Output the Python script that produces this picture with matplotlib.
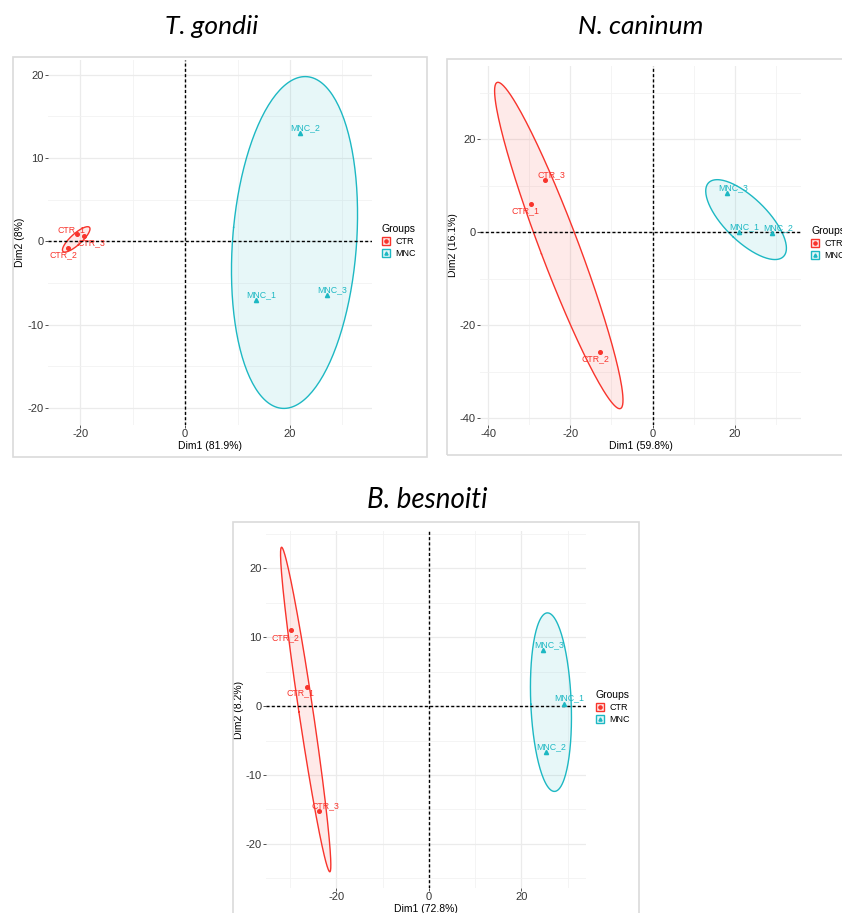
import numpy as np
import matplotlib.pyplot as plt
from matplotlib.patches import Patch, Rectangle
from matplotlib.lines import Line2D
from matplotlib.legend_handler import HandlerTuple
from matplotlib.ticker import MultipleLocator
from matplotlib.colors import to_rgba

plt.rcParams['axes.unicode_minus'] = False
plt.rcParams['font.family'] = ['Liberation Sans', 'DejaVu Sans']

W, H = 842, 913
RED = "#F8342C"
CYAN = "#1DB8C3"

# ---- data ----
samples = ["CTR_1", "CTR_2", "CTR_3", "MNC_1", "MNC_2", "MNC_3"]
group = ["CTR", "CTR", "CTR", "MNC", "MNC", "MNC"]
groups = ["CTR", "MNC"]

# T. gondii
tg_dim1 = [-20.7, -22.3, -19.3, 13.5, 22.0, 27.1]
tg_dim2 = [0.84, -0.76, 0.64, -7.0, 13.0, -6.4]
# N. caninum
nc_dim1 = [-29.6, -12.7, -26.1, 21.0, 29.0, 18.2]
nc_dim2 = [6.1, -25.8, 11.2, 0.0, -0.2, 8.4]
# B. besnoiti
bb_dim1 = [-26.4, -29.9, -23.7, 29.3, 25.3, 24.6]
bb_dim2 = [2.8, 11.0, -15.3, 0.3, -6.7, 8.1]

titles = ["T. gondii", "N. caninum", "B. besnoiti"]
xlabels = ["Dim1 (81.9%)", "Dim1 (59.8%)", "Dim1 (72.8%)"]
ylabels = ["Dim2 (8%)", "Dim2 (16.1%)", "Dim2 (8.2%)"]

# label offsets (px), layout only
tg_off = [(-5.3, 5), (-5, -6.7), (7.4, -6.6), (5.4, 5), (5, 5.7), (5, 5.3)]
nc_off = [(-5.7, -7), (-5.3, -6.7), (6.4, 5.6), (5.3, 6), (6, 5.6), (6, 5.6)]
bb_off = [(-6, -6.3), (-5.3, -7), (6.3, 5.6), (5.3, 6), (5.7, 5.4), (6.6, 5.6)]

colors = {"CTR": RED, "MNC": CYAN}
markers = {"CTR": "o", "MNC": "^"}

fig = plt.figure(figsize=(W / 100, H / 100), dpi=100)


def px_box(x0, y0, x1, y1):
    return [x0 / W, 1 - y1 / H, (x1 - x0) / W, (y1 - y0) / H]


def ellipse_xy(x, y, k=1.75, n=200):
    pts = np.column_stack([x, y])
    mu = pts.mean(axis=0)
    vals, vecs = np.linalg.eigh(np.cov(pts, rowvar=False))
    vals = np.clip(vals, 0, None)
    t = np.linspace(0, 2 * np.pi, n)
    circ = np.column_stack([np.cos(t), np.sin(t)]) * np.sqrt(vals)
    return mu + k * circ @ vecs.T


def frame(x0, y0, x1, y1):
    fig.add_artist(Rectangle((x0 / W, 1 - y1 / H), (x1 - x0) / W, (y1 - y0) / H,
                             transform=fig.transFigure, fill=False,
                             ec="#DADADA", lw=1.2))


def pca_panel(box, d1, d2, xlab, ylab, xmaj, ymaj, offs, leg_xy):
    ax = fig.add_axes(px_box(*box))
    d1 = np.array(d1)
    d2 = np.array(d2)
    g = np.array(group)
    allx, ally = list(d1), list(d2)
    for grp in groups:
        m = g == grp
        e = ellipse_xy(d1[m], d2[m])
        ax.fill(e[:, 0], e[:, 1], color=colors[grp], alpha=0.1, lw=0, zorder=2)
        ax.plot(e[:, 0], e[:, 1], color=colors[grp], lw=1, zorder=3)
        allx += list(e[:, 0])
        ally += list(e[:, 1])
        ax.plot(d1[m], d2[m], ls="", marker=markers[grp], color=colors[grp],
                ms=2.6 if grp == "CTR" else 3, zorder=4)
    for i, s in enumerate(samples):
        ax.annotate(s, (d1[i], d2[i]), xytext=(offs[i][0] * 0.72, offs[i][1] * 0.72),
                    textcoords="offset points", ha="center", va="center",
                    fontsize=6.3, color=colors[group[i]], zorder=5)
    # ggplot style 5% expansion
    x0, x1 = min(allx), max(allx)
    y0, y1 = min(ally), max(ally)
    ax.set_xlim(x0 - 0.05 * (x1 - x0), x1 + 0.05 * (x1 - x0))
    ax.set_ylim(y0 - 0.05 * (y1 - y0), y1 + 0.05 * (y1 - y0))
    ax.axhline(0, color="black", ls=(0, (2.2, 1.6)), lw=1, zorder=3)
    ax.axvline(0, color="black", ls=(0, (2.2, 1.6)), lw=1, zorder=3)

    ax.xaxis.set_major_locator(MultipleLocator(xmaj))
    ax.xaxis.set_minor_locator(MultipleLocator(xmaj / 2))
    ax.yaxis.set_major_locator(MultipleLocator(ymaj))
    ax.yaxis.set_minor_locator(MultipleLocator(ymaj / 2))
    ax.grid(which="major", color="#EBEBEB", lw=0.9)
    ax.grid(which="minor", color="#F2F2F2", lw=0.6)
    ax.set_axisbelow(True)
    for sp in ax.spines.values():
        sp.set_visible(False)
    ax.tick_params(which="major", length=2, width=0.6, color="#333333",
                   labelsize=8, labelcolor="#363636", pad=1)
    ax.tick_params(which="minor", length=0)
    ax.set_xlabel(xlab, fontsize=7.5, labelpad=1.5)
    ax.set_ylabel(ylab, fontsize=7.5, labelpad=1.5)

    handles = [(Patch(facecolor=to_rgba(colors[grp], 0.1), edgecolor=colors[grp], lw=1),
                Line2D([], [], ls="", marker=markers[grp], color=colors[grp], ms=2.3))
               for grp in groups]
    ax.legend(handles, groups, handler_map={tuple: HandlerTuple(ndivide=1, pad=0)},
              loc="upper left", bbox_to_anchor=(leg_xy[0] / W, 1 - leg_xy[1] / H),
              bbox_transform=fig.transFigure, frameon=False, title="Groups",
              title_fontsize=7.5, fontsize=6.5, alignment="left",
              handlelength=0.9, handleheight=0.9, handletextpad=0.6,
              labelspacing=0.35, borderpad=0, borderaxespad=0)
    return ax


# frames around each sub-figure
frame(13, 57, 427, 457)
frame(447, 59, 860, 455)
frame(233, 522, 639, 930)

pca_panel((47.7, 60, 372.3, 425), tg_dim1, tg_dim2, xlabels[0], ylabels[0],
          20, 10, tg_off, (382, 224))
pca_panel((480, 66, 801, 425), nc_dim1, nc_dim2, xlabels[1], ylabels[1],
          20, 20, nc_off, (811, 226))
pca_panel((266, 531, 586, 888), bb_dim1, bb_dim2, xlabels[2], ylabels[2],
          20, 10, bb_off, (596, 690))

title_kw = dict(ha="center", va="center", style="italic",
                family=["Lato", "Open Sans", "DejaVu Sans"])
fig.text(212 / W, 1 - 27 / H, titles[0], fontsize=19, **title_kw)
fig.text(641 / W, 1 - 27 / H, titles[1], fontsize=19, **title_kw)
fig.text(427 / W, 1 - 500 / H, titles[2], fontsize=20, **title_kw)

fig.savefig("out.png", dpi=100)
